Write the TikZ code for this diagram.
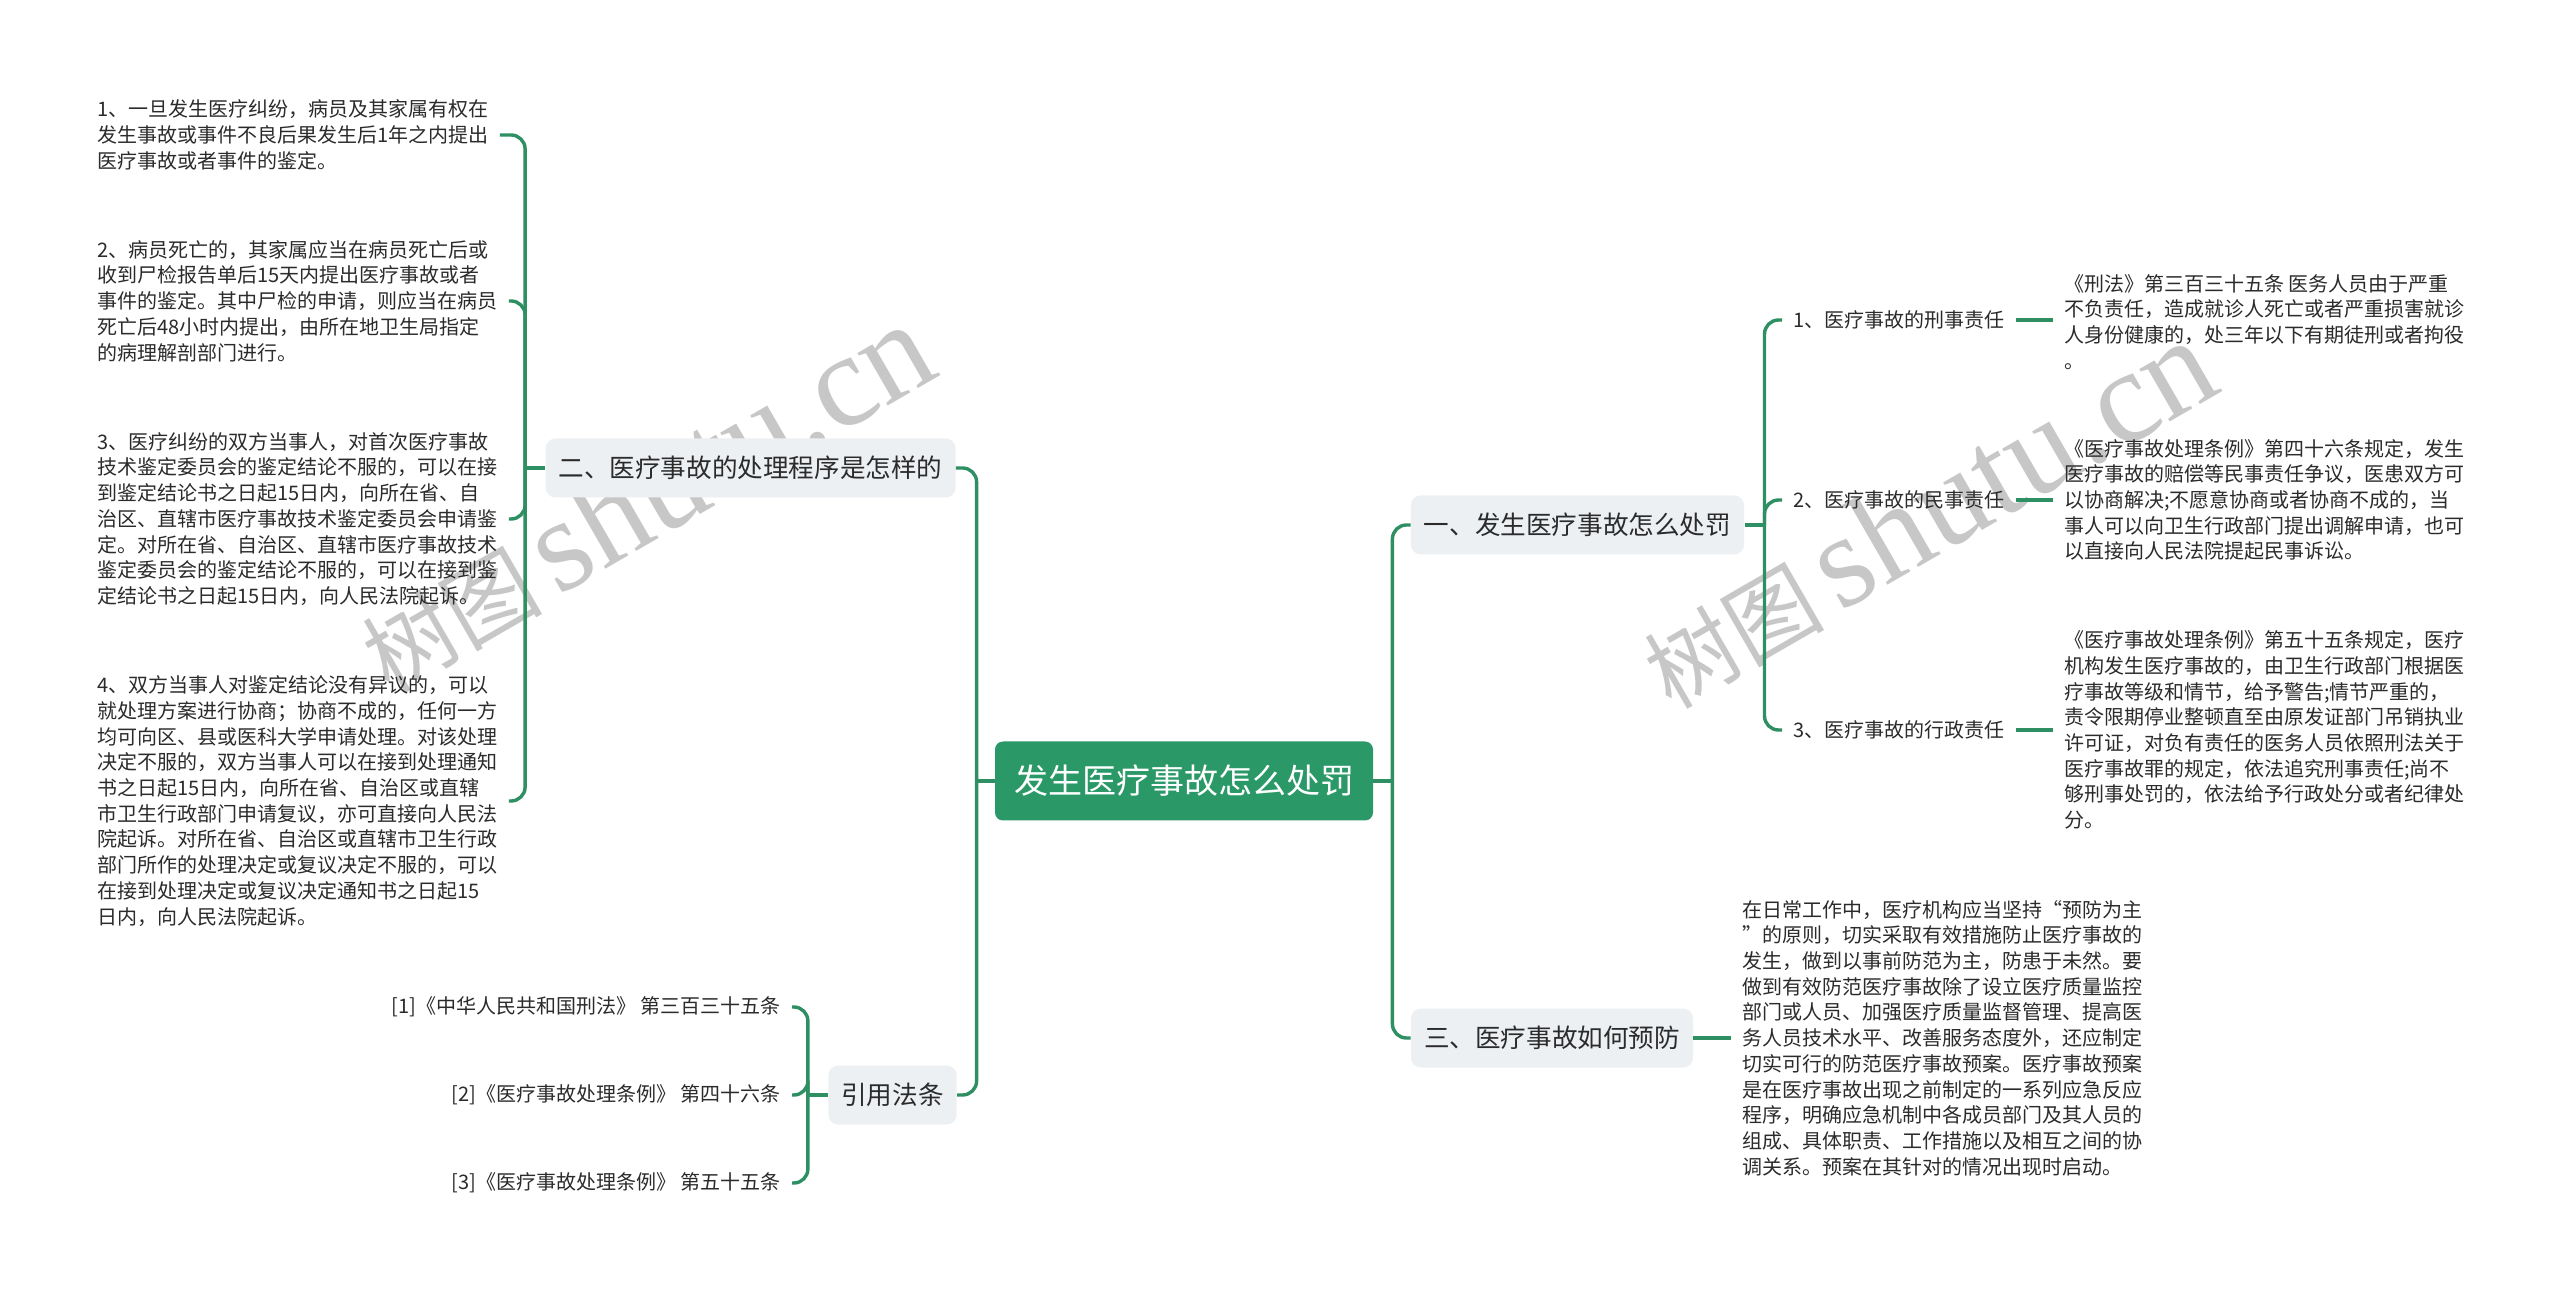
\documentclass[tikz,border=0pt]{standalone}
\usepackage{fontspec}
\setmainfont{Noto Sans CJK SC}
\newfontfamily\wmserif{Liberation Serif}
\definecolor{lineg}{HTML}{2E8F62}
\definecolor{rootg}{HTML}{2A9967}
\definecolor{boxg}{HTML}{EDF0F3}
\definecolor{txt}{HTML}{2B2B2B}
\begin{document}
\begin{tikzpicture}[x=0.5pt,y=-0.5pt,
 conn/.style={draw=lineg, line width=1.7pt, rounded corners=7pt},
 rootbox/.style={fill=rootg, rounded corners=4pt, text=white, font=\fontsize{17pt}{20pt}\selectfont, inner xsep=9.5pt, minimum height=39.5pt},
 branch/.style={fill=boxg, rounded corners=5pt, text=txt, font=\fontsize{12.8pt}{15pt}\selectfont, inner xsep=6.5pt, minimum height=29.5pt},
 leaf/.style={text=txt, font=\fontsize{10pt}{12pt}\selectfont, inner xsep=5.5pt, inner ysep=2pt},
 para/.style={text=txt, font=\fontsize{10pt}{12.85pt}\selectfont, align=left, inner xsep=5.5pt, inner ysep=2pt},
 wm/.style={text=black!22, inner sep=0pt, rotate=30}
]
\useasboundingbox[fill=white] (0,0) rectangle (2560,1293);

% watermarks
\node[wm] (wmL) at (645,498) {\fontsize{45pt}{45pt}\selectfont 树图\hspace{8pt}{\wmserif\fontsize{66pt}{66pt}\selectfont shutu.cn}};
\node[wm] (wmR) at (1927,514) {\fontsize{45pt}{45pt}\selectfont 树图\hspace{8pt}{\wmserif\fontsize{66pt}{66pt}\selectfont shutu.cn}};

% main nodes
\node[rootbox] (root) at (1184,781) {发生医疗事故怎么处罚};
\node[branch] (n2) at (750.5,468) {二、医疗事故的处理程序是怎样的};
\node[branch] (cite) at (892.5,1095) {引用法条};
\node[branch] (n1) at (1577.5,525) {一、发生医疗事故怎么处罚};
\node[branch] (n3) at (1552,1038) {三、医疗事故如何预防};

% left paragraphs
\node[para, anchor=west] (p1) at (86,135) {1、一旦发生医疗纠纷，病员及其家属有权在\\发生事故或事件不良后果发生后1年之内提出\\医疗事故或者事件的鉴定。};
\node[para, anchor=west] (p2) at (86,301) {2、病员死亡的，其家属应当在病员死亡后或\\收到尸检报告单后15天内提出医疗事故或者\\事件的鉴定。其中尸检的申请，则应当在病员\\死亡后48小时内提出，由所在地卫生局指定\\的病理解剖部门进行。};
\node[para, anchor=west] (p3) at (86,519) {3、医疗纠纷的双方当事人，对首次医疗事故\\技术鉴定委员会的鉴定结论不服的，可以在接\\到鉴定结论书之日起15日内，向所在省、自\\治区、直辖市医疗事故技术鉴定委员会申请鉴\\定。对所在省、自治区、直辖市医疗事故技术\\鉴定委员会的鉴定结论不服的，可以在接到鉴\\定结论书之日起15日内，向人民法院起诉。};
\node[para, anchor=west] (p4) at (86,801) {4、双方当事人对鉴定结论没有异议的，可以\\就处理方案进行协商；协商不成的，任何一方\\均可向区、县或医科大学申请处理。对该处理\\决定不服的，双方当事人可以在接到处理通知\\书之日起15日内，向所在省、自治区或直辖\\市卫生行政部门申请复议，亦可直接向人民法\\院起诉。对所在省、自治区或直辖市卫生行政\\部门所作的处理决定或复议决定不服的，可以\\在接到处理决定或复议决定通知书之日起15\\日内，向人民法院起诉。};

% citations
\node[leaf, anchor=east] (c1) at (792,1007) {[1]《中华人民共和国刑法》 第三百三十五条};
\node[leaf, anchor=east] (c2) at (792,1095) {[2]《医疗事故处理条例》 第四十六条};
\node[leaf, anchor=east] (c3) at (792,1183) {[3]《医疗事故处理条例》 第五十五条};

% right leaves
\node[leaf, anchor=west] (l1) at (1782,320) {1、医疗事故的刑事责任};
\node[leaf, anchor=west] (l2) at (1782,500) {2、医疗事故的民事责任};
\node[leaf, anchor=west] (l3) at (1782,730) {3、医疗事故的行政责任};

\node[para, anchor=west] (r1) at (2053,322) {《刑法》第三百三十五条 医务人员由于严重\\不负责任，造成就诊人死亡或者严重损害就诊\\人身份健康的，处三年以下有期徒刑或者拘役\\。};
\node[para, anchor=west] (r2) at (2053,500) {《医疗事故处理条例》第四十六条规定，发生\\医疗事故的赔偿等民事责任争议，医患双方可\\以协商解决;不愿意协商或者协商不成的，当\\事人可以向卫生行政部门提出调解申请，也可\\以直接向人民法院提起民事诉讼。};
\node[para, anchor=west] (r3) at (2053,730) {《医疗事故处理条例》第五十五条规定，医疗\\机构发生医疗事故的，由卫生行政部门根据医\\疗事故等级和情节，给予警告;情节严重的，\\责令限期停业整顿直至由原发证部门吊销执业\\许可证，对负有责任的医务人员依照刑法关于\\医疗事故罪的规定，依法追究刑事责任;尚不\\够刑事处罚的，依法给予行政处分或者纪律处\\分。};

\node[para, anchor=west] (prev) at (1731,1038) {在日常工作中，医疗机构应当坚持“预防为主\\”的原则，切实采取有效措施防止医疗事故的\\发生，做到以事前防范为主，防患于未然。要\\做到有效防范医疗事故除了设立医疗质量监控\\部门或人员、加强医疗质量监督管理、提高医\\务人员技术水平、改善服务态度外，还应制定\\切实可行的防范医疗事故预案。医疗事故预案\\是在医疗事故出现之前制定的一系列应急反应\\程序，明确应急机制中各成员部门及其人员的\\组成、具体职责、工作措施以及相互之间的协\\调关系。预案在其针对的情况出现时启动。};

% connectors: root
\draw[conn] (root.west) -- ++(-18,0) coordinate (hubL);
\draw[conn] (hubL) |- (n2.east);
\draw[conn] (hubL) |- (cite.east);
\draw[conn] (root.east) -- ++(19,0) coordinate (hubR);
\draw[conn] (hubR) |- (n1.west);
\draw[conn] (hubR) |- (n3.west);

% n2 children
\draw[conn] (n2.west) -- ++(-20,0) coordinate (hub2);
\foreach \c in {p1,p2,p3,p4} \draw[conn] (hub2) |- (\c.east);

% cite children
\draw[conn] (cite.west) -- ++(-20,0) coordinate (hubC);
\foreach \c in {c1,c2,c3} \draw[conn] (hubC) |- (\c.east);

% n1 children
\draw[conn] (n1.east) -- ++(20,0) coordinate (hub1);
\foreach \c in {l1,l2,l3} \draw[conn] (hub1) |- (\c.west);
\draw[conn] (l1.east) -- (r1.west |- l1.east);
\draw[conn] (l2.east) -- (r2.west |- l2.east);
\draw[conn] (l3.east) -- (r3.west |- l3.east);

% n3 child
\draw[conn] (n3.east) -- (prev.west);
\end{tikzpicture}
\end{document}
